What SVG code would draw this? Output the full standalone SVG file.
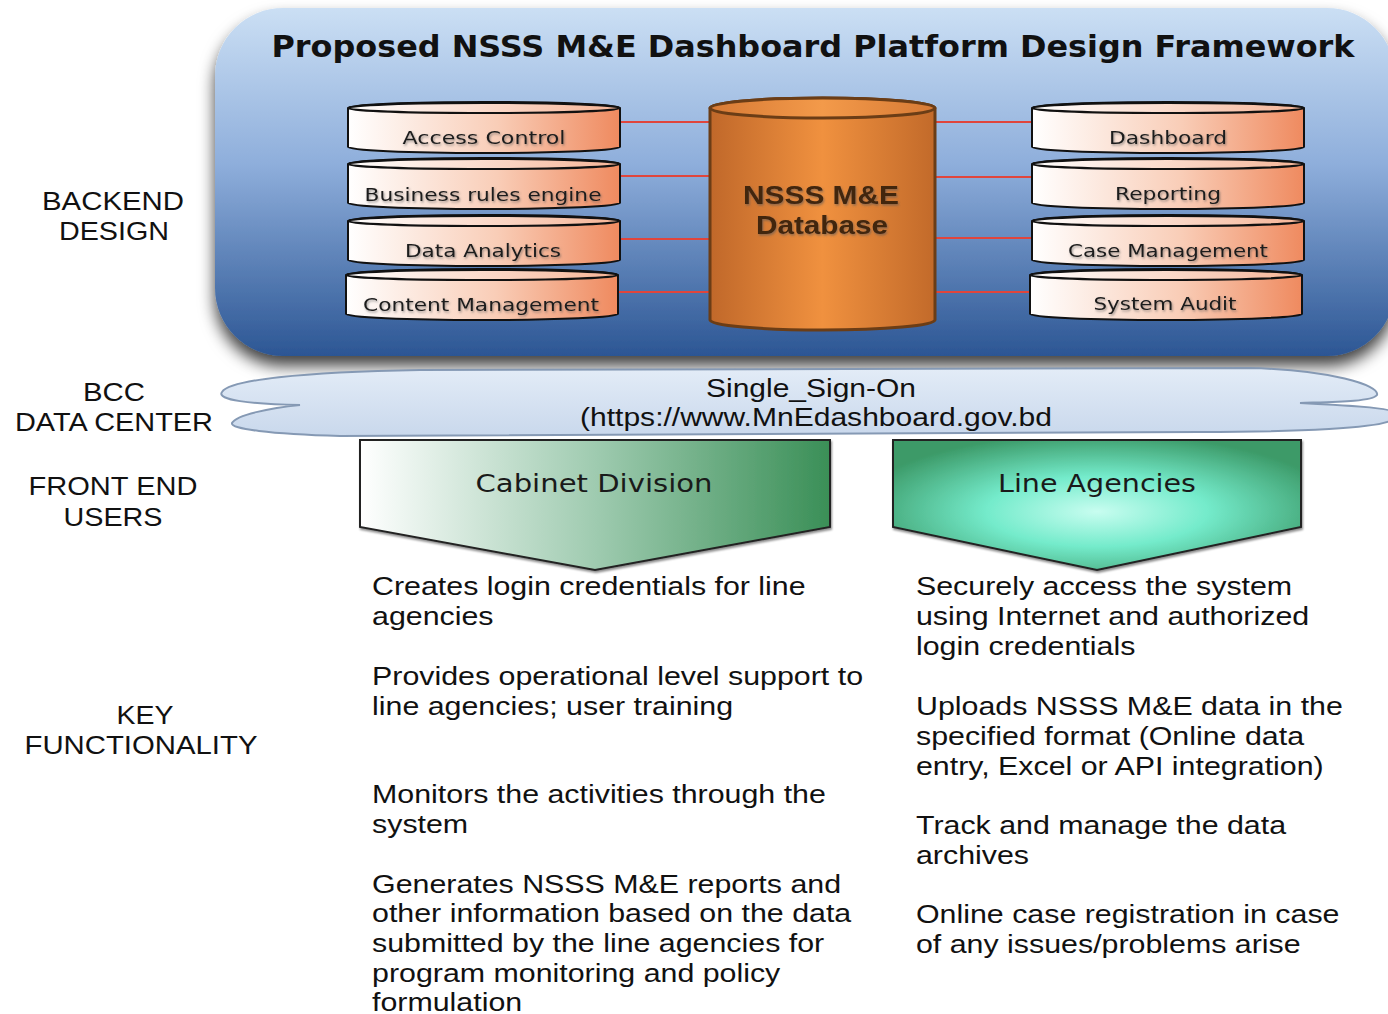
<svg xmlns="http://www.w3.org/2000/svg" width="1388" height="1014" viewBox="0 0 1388 1014">
<defs>
<style>
.lbl{font-family:"Liberation Sans",Arial,sans-serif;font-size:25px;fill:#111}
.cyl-t{font-family:"DejaVu Sans",Verdana,sans-serif;font-size:18px;fill:#1a1a1a;text-anchor:middle}
.chev-t{font-family:"DejaVu Sans",Verdana,sans-serif;font-size:24px;fill:#1a1a1a;text-anchor:middle}
.conn{stroke:#e0453c;stroke-width:2;fill:none}
.cylbody{fill:url(#gCyl);stroke:#111;stroke-width:2}
.cyltop{fill:url(#gCylTop);stroke:#111;stroke-width:2}
</style>
<linearGradient id="gPanel" x1="0" y1="0" x2="0" y2="1">
<stop offset="0" stop-color="#cbdff4"/>
<stop offset="0.45" stop-color="#8eaedb"/>
<stop offset="1" stop-color="#2c5694"/>
</linearGradient>
<linearGradient id="gCyl" x1="0" y1="0" x2="1" y2="0">
<stop offset="0" stop-color="#ffffff"/>
<stop offset="0.55" stop-color="#f9cdb7"/>
<stop offset="1" stop-color="#ef8a5f"/>
</linearGradient>
<linearGradient id="gCylTop" x1="0" y1="0" x2="1" y2="0">
<stop offset="0" stop-color="#ffffff"/>
<stop offset="1" stop-color="#f6b597"/>
</linearGradient>
<linearGradient id="gDb" x1="0" y1="0" x2="1" y2="0">
<stop offset="0" stop-color="#c0682a"/>
<stop offset="0.5" stop-color="#f0913f"/>
<stop offset="1" stop-color="#c26a2a"/>
</linearGradient>
<linearGradient id="gDbTop" x1="0" y1="0" x2="1" y2="0">
<stop offset="0" stop-color="#d77a35"/>
<stop offset="0.5" stop-color="#f39a4a"/>
<stop offset="1" stop-color="#d77a35"/>
</linearGradient>
<linearGradient id="gCloud" x1="0" y1="0" x2="0" y2="1">
<stop offset="0" stop-color="#e3ecf7"/>
<stop offset="1" stop-color="#c9d8ec"/>
</linearGradient>
<linearGradient id="gCab" x1="0" y1="0" x2="1" y2="0">
<stop offset="0" stop-color="#ffffff"/>
<stop offset="0.5" stop-color="#9fcbb0"/>
<stop offset="1" stop-color="#3a8f57"/>
</linearGradient>
<radialGradient id="gLine" cx="0.5" cy="0.55" r="0.6">
<stop offset="0" stop-color="#c8fdf0"/>
<stop offset="0.45" stop-color="#74ebcb"/>
<stop offset="1" stop-color="#3c9a68"/>
</radialGradient>
<filter id="fPanel" x="-5%" y="-10%" width="110%" height="125%">
<feDropShadow dx="0" dy="10" stdDeviation="8" flood-color="#000" flood-opacity="0.75"/>
</filter>
<filter id="fSh" x="-5%" y="-20%" width="110%" height="150%">
<feDropShadow dx="1" dy="2" stdDeviation="1.2" flood-color="#000" flood-opacity="0.45"/>
</filter>
<filter id="fTx" x="-5%" y="-30%" width="110%" height="160%">
<feDropShadow dx="1" dy="1.5" stdDeviation="0.8" flood-color="#555" flood-opacity="0.6"/>
</filter>
<g id="cyl">
<path class="cylbody" d="M0,6 A136,6 0 0 1 272,6 L272,45 A136,6 0 0 1 0,45 Z"/>
<ellipse class="cyltop" cx="136" cy="6" rx="136" ry="5"/>
</g>
</defs>

<rect width="1388" height="1014" fill="#ffffff"/>

<g id="panel">
<rect x="215" y="8" width="1180" height="348" rx="68" ry="68" fill="url(#gPanel)" filter="url(#fPanel)"/>
<text x="813" y="57" text-anchor="middle" font-family="DejaVu Sans,Verdana,sans-serif" font-weight="bold" font-size="30" fill="#111" textLength="1083" lengthAdjust="spacingAndGlyphs">Proposed NSSS M&amp;E Dashboard Platform Design Framework</text>
</g>

<g id="connectors">
<line class="conn" x1="620" y1="122" x2="711" y2="122"/>
<line class="conn" x1="620" y1="176" x2="711" y2="176"/>
<line class="conn" x1="620" y1="239" x2="711" y2="239"/>
<line class="conn" x1="618" y1="292" x2="711" y2="292"/>
<line class="conn" x1="934" y1="122" x2="1032" y2="122"/>
<line class="conn" x1="934" y1="177" x2="1032" y2="177"/>
<line class="conn" x1="934" y1="238" x2="1032" y2="238"/>
<line class="conn" x1="934" y1="292" x2="1030" y2="292"/>
</g>

<g id="access-control">
<use href="#cyl" transform="translate(348,102)"/>
<text class="cyl-t" x="484" y="144" textLength="163" lengthAdjust="spacingAndGlyphs" filter="url(#fTx)">Access Control</text>
</g>
<g id="business-rules">
<use href="#cyl" transform="translate(348,158)"/>
<text class="cyl-t" x="483" y="201" textLength="237" lengthAdjust="spacingAndGlyphs" filter="url(#fTx)">Business rules engine</text>
</g>
<g id="data-analytics">
<use href="#cyl" transform="translate(348,215)"/>
<text class="cyl-t" x="483" y="257" textLength="156" lengthAdjust="spacingAndGlyphs" filter="url(#fTx)">Data Analytics</text>
</g>
<g id="content-management">
<use href="#cyl" transform="translate(346,269)"/>
<text class="cyl-t" x="481" y="311" textLength="236" lengthAdjust="spacingAndGlyphs" filter="url(#fTx)">Content Management</text>
</g>

<g id="dashboard">
<use href="#cyl" transform="translate(1032,102)"/>
<text class="cyl-t" x="1168" y="144" textLength="118" lengthAdjust="spacingAndGlyphs" filter="url(#fTx)">Dashboard</text>
</g>
<g id="reporting">
<use href="#cyl" transform="translate(1032,158)"/>
<text class="cyl-t" x="1168" y="200" textLength="106" lengthAdjust="spacingAndGlyphs" filter="url(#fTx)">Reporting</text>
</g>
<g id="case-management">
<use href="#cyl" transform="translate(1032,215)"/>
<text class="cyl-t" x="1168" y="257" textLength="200" lengthAdjust="spacingAndGlyphs" filter="url(#fTx)">Case Management</text>
</g>
<g id="system-audit">
<use href="#cyl" transform="translate(1030,269)"/>
<text class="cyl-t" x="1165" y="310" textLength="143" lengthAdjust="spacingAndGlyphs" filter="url(#fTx)">System Audit</text>
</g>

<g id="database">
<path d="M710,108 A112.5,10 0 0 1 935,108 L935,320 A112.5,10 0 0 1 710,320 Z" fill="url(#gDb)" stroke="#6b3d16" stroke-width="3"/>
<ellipse cx="822.5" cy="108" rx="112.5" ry="10" fill="url(#gDbTop)" stroke="#6b3d16" stroke-width="3"/>
<g font-family="Liberation Sans,Arial,sans-serif" font-weight="bold" font-size="25" fill="#42260f" text-anchor="middle" filter="url(#fTx)">
<text x="821" y="204" textLength="156" lengthAdjust="spacingAndGlyphs">NSSS M&amp;E</text>
<text x="822" y="234" textLength="132" lengthAdjust="spacingAndGlyphs">Database</text>
</g>
</g>

<g id="sso-cloud">
<path d="M300,405 C250,404 216,400 222,392 C230,380 300,372 420,370 L1250,368 C1330,370 1380,385 1377,395 C1372,402 1330,402 1300,403 C1340,405 1392,408 1392,412 L1392,420 C1380,428 1300,432 1200,432 L340,436 C270,434 230,429 232,423 C236,415 270,408 300,405 Z" fill="url(#gCloud)" stroke="#8599b4" stroke-width="2"/>
<text class="lbl" x="811" y="397" text-anchor="middle" textLength="210" lengthAdjust="spacingAndGlyphs">Single_Sign-On</text>
<text class="lbl" x="580" y="426" textLength="472" lengthAdjust="spacingAndGlyphs">(https://www.MnEdashboard.gov.bd</text>
</g>

<g id="cabinet-division">
<polygon points="360,440 830,440 830,527 595,570 360,527" fill="url(#gCab)" stroke="#222" stroke-width="2" filter="url(#fSh)"/>
<text class="chev-t" x="594" y="492" textLength="237" lengthAdjust="spacingAndGlyphs">Cabinet Division</text>
</g>
<g id="line-agencies">
<polygon points="893,440 1301,440 1301,527 1097,570 893,527" fill="url(#gLine)" stroke="#222" stroke-width="2" filter="url(#fSh)"/>
<text class="chev-t" x="1097" y="492" textLength="198" lengthAdjust="spacingAndGlyphs">Line Agencies</text>
</g>

<g id="row-labels" class="lbl" text-anchor="middle">
<text x="113" y="210" textLength="142" lengthAdjust="spacingAndGlyphs">BACKEND</text>
<text x="114" y="240" textLength="110" lengthAdjust="spacingAndGlyphs">DESIGN</text>
<text x="114" y="401" textLength="62" lengthAdjust="spacingAndGlyphs">BCC</text>
<text x="114" y="431" textLength="198" lengthAdjust="spacingAndGlyphs">DATA CENTER</text>
<text x="113" y="495" textLength="169" lengthAdjust="spacingAndGlyphs">FRONT END</text>
<text x="113" y="526" textLength="99" lengthAdjust="spacingAndGlyphs">USERS</text>
<text x="145" y="724" textLength="57" lengthAdjust="spacingAndGlyphs">KEY</text>
<text x="141" y="754" textLength="233" lengthAdjust="spacingAndGlyphs">FUNCTIONALITY</text>
</g>

<g id="cabinet-functions" class="lbl" transform="scale(1.215,1)">
<text x="306.2" y="595">Creates login credentials for line</text>
<text x="306.2" y="625">agencies</text>
<text x="306.2" y="685">Provides operational level support to</text>
<text x="306.2" y="715">line agencies; user training</text>
<text x="306.2" y="803">Monitors the activities through the</text>
<text x="306.2" y="833">system</text>
<text x="306.2" y="893">Generates NSSS M&amp;E reports and</text>
<text x="306.2" y="922">other information based on the data</text>
<text x="306.2" y="952">submitted by the line agencies for</text>
<text x="306.2" y="982">program monitoring and policy</text>
<text x="306.2" y="1011">formulation</text>
</g>

<g id="line-agency-functions" class="lbl" transform="scale(1.215,1)">
<text x="753.9" y="595">Securely access the system</text>
<text x="753.9" y="625">using Internet and authorized</text>
<text x="753.9" y="655">login credentials</text>
<text x="753.9" y="715">Uploads NSSS M&amp;E data in the</text>
<text x="753.9" y="745">specified format (Online data</text>
<text x="753.9" y="775">entry, Excel or API integration)</text>
<text x="753.9" y="834">Track and manage the data</text>
<text x="753.9" y="864">archives</text>
<text x="753.9" y="923">Online case registration in case</text>
<text x="753.9" y="953">of any issues/problems arise</text>
</g>
</svg>
